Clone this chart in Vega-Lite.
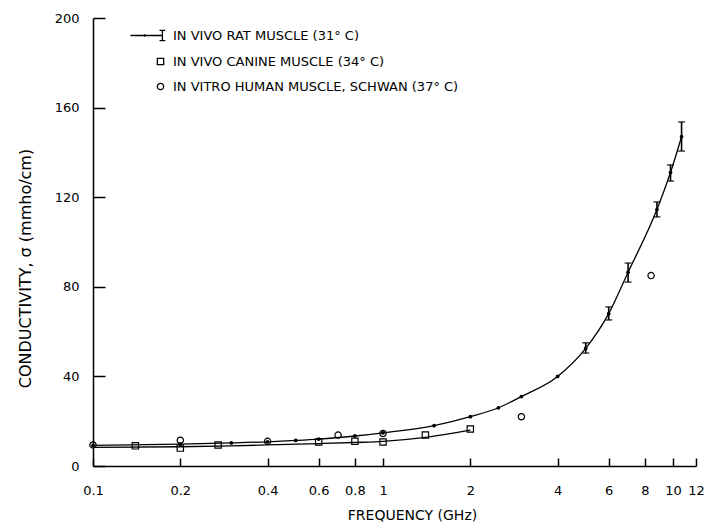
{
  "$schema": "https://vega.github.io/schema/vega-lite/v6.json",
  "width": 603,
  "height": 448,
  "autosize": {"type": "none"},
  "padding": {"left": 93, "top": 18, "right": 13, "bottom": 61},
  "background": "white",
  "config": {
    "view": {"stroke": null},
    "font": "DejaVu Sans",
    "axis": {
      "grid": false,
      "domainColor": "black",
      "domainWidth": 1.5,
      "tickColor": "black",
      "tickWidth": 1.5,
      "labelColor": "black",
      "titleColor": "black",
      "labelFont": "DejaVu Sans",
      "titleFont": "DejaVu Sans",
      "labelFontSize": 13,
      "titleFontSize": 14,
      "titleFontWeight": "normal",
      "labelOverlap": false,
      "labelFlush": false
    }
  },
  "data": {
    "values": [
      {"series": "rat", "f": 0.1, "s": 9.2},
      {"series": "rat", "f": 0.2, "s": 9.8},
      {"series": "rat", "f": 0.3, "s": 10.3},
      {"series": "rat", "f": 0.4, "s": 10.8},
      {"series": "rat", "f": 0.5, "s": 11.4},
      {"series": "rat", "f": 0.6, "s": 12},
      {"series": "rat", "f": 0.8, "s": 13.4},
      {"series": "rat", "f": 1, "s": 14.8},
      {"series": "rat", "f": 1.5, "s": 18},
      {"series": "rat", "f": 2, "s": 22},
      {"series": "rat", "f": 2.5, "s": 26},
      {"series": "rat", "f": 3, "s": 31},
      {"series": "rat", "f": 4, "s": 40},
      {"series": "rat", "f": 5, "s": 52.5, "lo": 50.4, "hi": 55},
      {"series": "rat", "f": 6, "s": 68, "lo": 65.2, "hi": 71},
      {"series": "rat", "f": 7, "s": 86.5, "lo": 82.1, "hi": 90.6},
      {"series": "rat", "f": 8.8, "s": 114.5, "lo": 111.2, "hi": 117.9},
      {"series": "rat", "f": 9.8, "s": 131, "lo": 127.2, "hi": 134.4},
      {"series": "rat", "f": 10.7, "s": 147, "lo": 140.6, "hi": 153.6},
      {"series": "canfit", "f": 0.1, "s": 8.3},
      {"series": "canfit", "f": 0.2, "s": 8.6},
      {"series": "canfit", "f": 0.3, "s": 9},
      {"series": "canfit", "f": 0.4, "s": 9.4},
      {"series": "canfit", "f": 0.6, "s": 10},
      {"series": "canfit", "f": 0.8, "s": 10.5},
      {"series": "canfit", "f": 1, "s": 11},
      {"series": "canfit", "f": 1.4, "s": 12.8},
      {"series": "canfit", "f": 2, "s": 16},
      {"series": "canine", "f": 0.14, "s": 9},
      {"series": "canine", "f": 0.2, "s": 8},
      {"series": "canine", "f": 0.27, "s": 9.4},
      {"series": "canine", "f": 0.6, "s": 10.7},
      {"series": "canine", "f": 0.8, "s": 11},
      {"series": "canine", "f": 1, "s": 10.7},
      {"series": "canine", "f": 1.4, "s": 13.8},
      {"series": "canine", "f": 2, "s": 16.5},
      {"series": "human", "f": 0.1, "s": 9.4},
      {"series": "human", "f": 0.2, "s": 11.5},
      {"series": "human", "f": 0.4, "s": 11},
      {"series": "human", "f": 0.7, "s": 13.8},
      {"series": "human", "f": 1, "s": 14.5},
      {"series": "human", "f": 3, "s": 22},
      {"series": "human", "f": 8.4, "s": 85}
    ]
  },
  "encoding": {
    "x": {
      "field": "f",
      "type": "quantitative",
      "scale": {"type": "log", "domain": [0.1, 12], "nice": false},
      "axis": {
        "values": [0.1, 0.2, 0.4, 0.6, 0.8, 1, 2, 4, 6, 8, 10, 12],
        "format": "~g",
        "tickSize": -8,
        "labelPadding": 26,
        "title": "FREQUENCY (GHz)",
        "titleX": 319,
        "titleY": 49,
        "titleBaseline": "middle"
      }
    },
    "y": {
      "field": "s",
      "type": "quantitative",
      "scale": {"domain": [0, 200], "nice": false},
      "axis": {
        "values": [0, 40, 80, 120, 160, 200],
        "tickSize": -12,
        "labelPadding": 26,
        "title": "CONDUCTIVITY, σ (mmho/cm)",
        "titleFontSize": 16,
        "titleX": -68,
        "titleY": 250,
        "titleBaseline": "middle"
      }
    }
  },
  "layer": [
    {
      "transform": [{"filter": "datum.series === 'rat' || datum.series === 'canfit'"}],
      "mark": {"type": "line", "interpolate": "monotone", "color": "black", "strokeWidth": 1.3},
      "encoding": {"detail": {"field": "series", "type": "nominal"}}
    },
    {
      "transform": [{"filter": "datum.lo != null"}],
      "mark": {"type": "rule", "color": "black", "strokeWidth": 1.6},
      "encoding": {
        "y": {"field": "lo", "type": "quantitative", "title": "CONDUCTIVITY, σ (mmho/cm)"},
        "y2": {"field": "hi"}
      }
    },
    {
      "transform": [{"filter": "datum.lo != null"}],
      "mark": {"type": "tick", "orient": "horizontal", "color": "black", "size": 7, "thickness": 1.6},
      "encoding": {"y": {"field": "lo", "type": "quantitative", "title": "CONDUCTIVITY, σ (mmho/cm)"}}
    },
    {
      "transform": [{"filter": "datum.lo != null"}],
      "mark": {"type": "tick", "orient": "horizontal", "color": "black", "size": 7, "thickness": 1.6},
      "encoding": {"y": {"field": "hi", "type": "quantitative", "title": "CONDUCTIVITY, σ (mmho/cm)"}}
    },
    {
      "transform": [{"filter": "datum.series === 'rat'"}],
      "mark": {"type": "point", "filled": true, "color": "black", "size": 14, "opacity": 1}
    },
    {
      "transform": [{"filter": "datum.series === 'canine' || datum.series === 'human'"}],
      "mark": {"type": "point", "filled": false, "color": "black", "strokeWidth": 1.2, "opacity": 1, "size": 40},
      "encoding": {
        "shape": {
          "field": "series",
          "type": "nominal",
          "scale": {
            "domain": ["rat", "canine", "human"],
            "range": ["M-9.5,0H0.6M0.6,-1.6V1.6M-0.3,-1.6H1.5M-0.3,1.6H1.5M-5,-0.4V0.4", "square", "circle"]
          },
          "legend": {
            "title": null,
            "orient": "none",
            "legendX": 61,
            "legendY": 11,
            "rowPadding": 11,
            "symbolSize": 40,
            "symbolStrokeWidth": 1.3,
            "labelFontSize": 13,
            "labelColor": "black",
            "labelOffset": 6,
            "labelLimit": 600,
            "labelExpr": "datum.value === 'rat' ? 'IN VIVO RAT MUSCLE (31° C)' : datum.value === 'canine' ? 'IN VIVO CANINE MUSCLE (34° C)' : 'IN VITRO HUMAN MUSCLE, SCHWAN (37° C)'"
          }
        }
      }
    }
  ]
}
